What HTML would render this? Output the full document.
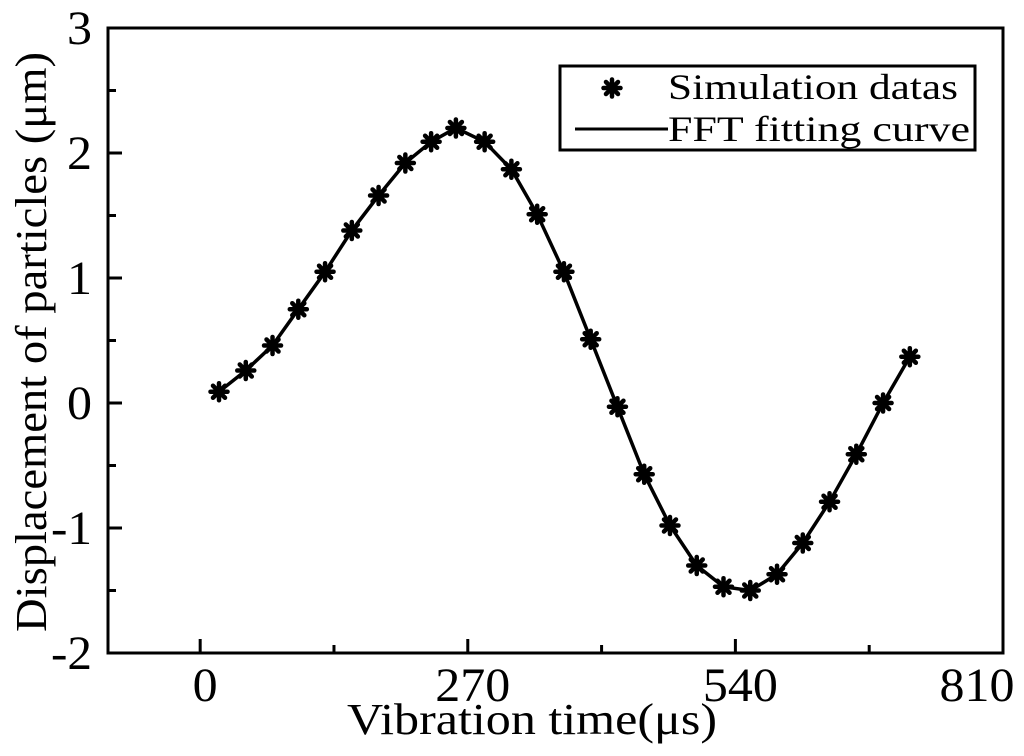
<!DOCTYPE html>
<html><head><meta charset="utf-8"><style>
html,body{margin:0;padding:0;background:#fff;}
svg{display:block;font-family:"Liberation Serif",serif;}
</style></head><body>
<svg id="chart" width="1024" height="756" viewBox="0 0 1024 756" xmlns="http://www.w3.org/2000/svg">
<g id="axes"></g><g id="series"></g>
<g>
<rect x="560" y="66" width="415" height="84" fill="#fff" stroke="#000" stroke-width="3"/>
<g id="legmark"></g>
<text x="668" y="99" font-size="36" textLength="290" lengthAdjust="spacingAndGlyphs">Simulation datas</text>
<line x1="575" y1="129" x2="668" y2="129" stroke="#000" stroke-width="3"/>
<text x="668" y="141" font-size="36" textLength="302" lengthAdjust="spacingAndGlyphs">FFT fitting curve</text>
</g>
<text x="532" y="734" font-size="44" text-anchor="middle" textLength="370" lengthAdjust="spacingAndGlyphs">Vibration time(μs)</text>
<text transform="translate(46,342) rotate(-90)" font-size="44" text-anchor="middle" textLength="580" lengthAdjust="spacingAndGlyphs">Displacement of particles (μm)</text>
</svg>
<script>
const times=[19,46,73,99,126,153,180,207,233,258,287,314,340,367,394,421,448,474,501,528,555,582,608,635,662,689,716];
const values=[0.09,0.26,0.46,0.75,1.05,1.38,1.66,1.92,2.09,2.2,2.09,1.87,1.51,1.05,0.51,-0.03,-0.57,-0.98,-1.3,-1.47,-1.5,-1.37,-1.12,-0.79,-0.41,0.0,0.37];
const xTicks=[0,270,540,810];
const xMinor=[135,405,675];
const yTicks=[-2,-1,0,1,2,3];
const yMinor=[-1.5,-0.5,0.5,1.5,2.5];
const L=108,R=1003,T=28,B=653;
const xmin=-93,xmax=810,ymin=-2,ymax=3;
const X=v=>L+(v-xmin)/(xmax-xmin)*(R-L);
const Y=v=>B-(v-ymin)/(ymax-ymin)*(B-T);
const NS="http://www.w3.org/2000/svg";
function mk(tag,attrs,parent){const e=document.createElementNS(NS,tag);for(const k in attrs)e.setAttribute(k,attrs[k]);parent.appendChild(e);return e;}
const ax=document.getElementById('axes');
const frame=mk('rect',{x:L,y:T,width:R-L,height:B-T,fill:'none',stroke:'#000','stroke-width':3},ax);


xTicks.forEach(v=>{
 const l=mk('line',{x1:X(v),x2:X(v),y1:B,y2:B-14,stroke:'#000','stroke-width':3},ax);
 
 
 const s=String(v);
 const cx=Math.min(X(v)+5,977);
 const t=mk('text',{x:cx,y:B+48,'font-size':48,'text-anchor':'middle',textLength:s.length*25,lengthAdjust:'spacingAndGlyphs'},ax);t.textContent=s;
 
 
});
xMinor.forEach(v=>{
 const l=mk('line',{x1:X(v),x2:X(v),y1:B,y2:B-8,stroke:'#000','stroke-width':3},ax);
 
 
});
yTicks.forEach(v=>{
 const l=mk('line',{x1:L,x2:L+14,y1:Y(v),y2:Y(v),stroke:'#000','stroke-width':3},ax);
 
 
 const s=String(v);
 const t=mk('text',{x:92,y:Y(v)+16,'font-size':48,'text-anchor':'end',textLength:s.length<2?25:41,lengthAdjust:'spacingAndGlyphs'},ax);t.textContent=s;
 
 
});
yMinor.forEach(v=>{
 const l=mk('line',{x1:L,x2:L+8,y1:Y(v),y2:Y(v),stroke:'#000','stroke-width':3},ax);
 
 
});
const sg=document.getElementById('series');
const pts=times.map((t,i)=>X(t).toFixed(1)+','+Y(values[i]).toFixed(1)).join(' ');
const pl=mk('polyline',{points:pts,fill:'none',stroke:'#000','stroke-width':3.5,'stroke-linejoin':'round'},sg);


function star(cx,cy,parent){
 const g=mk('g',{},parent);
 [0,45,90,135].forEach(a=>{const r=a*Math.PI/180,d=8.5;
  mk('line',{x1:cx-d*Math.cos(r),y1:cy-d*Math.sin(r),x2:cx+d*Math.cos(r),y2:cy+d*Math.sin(r),stroke:'#000','stroke-width':4.5,'stroke-linecap':'round'},g);});
 return g;
}
times.forEach((t,i)=>{
 const g=star(X(t),Y(values[i]),sg);
 
 
});
const lm=star(612,88,document.getElementById('legmark'));


</script>
</body></html>
